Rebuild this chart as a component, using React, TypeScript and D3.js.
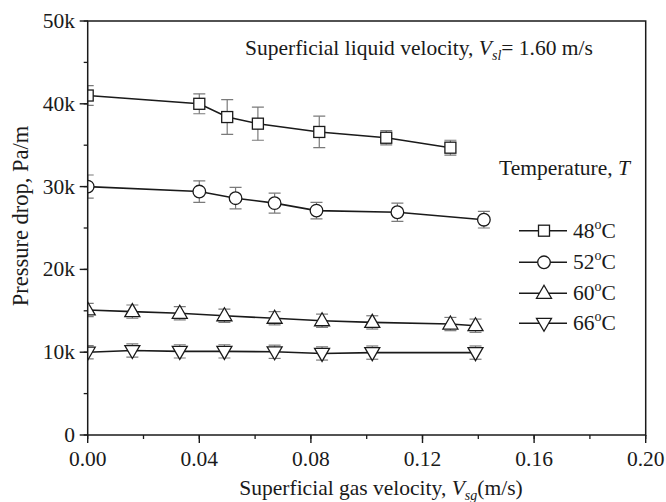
import React from "react";
import * as d3 from "d3";

const xTicks = [0, 0.04, 0.08, 0.12, 0.16, 0.2];
const xTickLabels = ["0.00", "0.04", "0.08", "0.12", "0.16", "0.20"];
const yTicks = [0, 10000, 20000, 30000, 40000, 50000];
const yTickLabels = ["0", "10k", "20k", "30k", "40k", "50k"];

const x48 = [0, 0.04, 0.05, 0.061, 0.083, 0.107, 0.13];
const y48 = [41000, 40000, 38400, 37600, 36600, 35900, 34700];
const e48 = [1200, 1200, 2100, 2000, 1900, 850, 900];

const x52 = [0, 0.04, 0.053, 0.067, 0.082, 0.111, 0.142];
const y52 = [30000, 29400, 28600, 28000, 27100, 26900, 26000];
const e52 = [1400, 1300, 1300, 1200, 1000, 1100, 1000];

const x60 = [0, 0.016, 0.033, 0.049, 0.067, 0.084, 0.102, 0.13, 0.139];
const y60 = [15100, 14900, 14700, 14400, 14100, 13800, 13600, 13400, 13200];
const e60 = [800, 800, 800, 800, 800, 800, 800, 800, 800];

const x66 = [0, 0.016, 0.033, 0.049, 0.067, 0.084, 0.102, 0.139];
const y66 = [10000, 10200, 10100, 10100, 10050, 9850, 9950, 9950];
const e66 = [800, 800, 800, 800, 800, 800, 800, 800];

const seriesNames = ["48", "52", "60", "66"];

type Kind = "square" | "circle" | "up" | "down";

const W = 666;
const H = 502;
const FONT = "'Liberation Serif', 'Times New Roman', serif";
const INK = "#1a1a1a";
const FS = 21.5;

function Marker({ kind, cx, cy }: { kind: Kind; cx: number; cy: number }) {
  const common = { fill: "#fff", stroke: INK, strokeWidth: 1.3 };
  if (kind === "square") return <rect x={cx - 5.5} y={cy - 5.5} width={11} height={11} {...common} />;
  if (kind === "circle") return <circle cx={cx} cy={cy} r={6.3} {...common} />;
  if (kind === "up")
    return <path d={`M${cx},${cy - 8}L${cx + 7.5},${cy + 5}L${cx - 7.5},${cy + 5}Z`} {...common} />;
  return <path d={`M${cx},${cy + 8}L${cx + 7.5},${cy - 5}L${cx - 7.5},${cy - 5}Z`} {...common} />;
}

export default function App() {
  const x = d3.scaleLinear().domain([0, 0.2]).range([87.7, 645.7]);
  const y = d3.scaleLinear().domain([0, 50000]).range([435, 21]);
  const [x0, x1] = x.range();
  const [yb, yt] = y.range();

  const series: { xs: number[]; ys: number[]; es: number[]; kind: Kind }[] = [
    { xs: x48, ys: y48, es: e48, kind: "square" },
    { xs: x52, ys: y52, es: e52, kind: "circle" },
    { xs: x60, ys: y60, es: e60, kind: "up" },
    { xs: x66, ys: y66, es: e66, kind: "down" },
  ];

  const line = d3
    .line<[number, number]>()
    .x((d) => x(d[0]))
    .y((d) => y(d[1]));

  const xMinor = d3.range(0, 0.2001, 0.02);
  const yMinor = d3.range(0, 50001, 5000);

  const legendRows = [230.7, 262.3, 293.3, 323.3];

  return (
    <svg width={W} height={H} style={{ position: "absolute", left: 0, top: 0, background: "#fff" }} fontFamily={FONT}>
      <defs>
        <clipPath id="plot">
          <rect x={x0} y={yt} width={x1 - x0} height={yb - yt} />
        </clipPath>
      </defs>
      <rect x={0} y={0} width={W} height={H} fill="#fff" />

      {/* data */}
      <g clipPath="url(#plot)">
        {series.map((s, i) => (
          <g key={"eb" + i} stroke="#7a7a7a" strokeWidth={1.2}>
            {s.xs.map((xv, j) => {
              const cx = x(xv);
              const ya = y(s.ys[j] + s.es[j]);
              const yb2 = y(s.ys[j] - s.es[j]);
              return (
                <g key={j}>
                  <line x1={cx} x2={cx} y1={ya} y2={yb2} />
                  <line x1={cx - 6} x2={cx + 6} y1={ya} y2={ya} />
                  <line x1={cx - 6} x2={cx + 6} y1={yb2} y2={yb2} />
                </g>
              );
            })}
          </g>
        ))}
        {series.map((s, i) => (
          <path
            key={"l" + i}
            d={line(s.xs.map((xv, j) => [xv, s.ys[j]] as [number, number])) || ""}
            fill="none"
            stroke={INK}
            strokeWidth={1.6}
          />
        ))}
        {series.map((s, i) => (
          <g key={"m" + i}>
            {s.xs.map((xv, j) => (
              <Marker key={j} kind={s.kind} cx={x(xv)} cy={y(s.ys[j])} />
            ))}
          </g>
        ))}
      </g>

      {/* frame */}
      <rect x={x0} y={yt} width={x1 - x0} height={yb - yt} fill="none" stroke={INK} strokeWidth={1.5} />

      {/* x ticks */}
      {xMinor.map((t, i) => (
        <line key={"xm" + i} x1={x(t)} x2={x(t)} y1={yb} y2={yb + 4} stroke={INK} strokeWidth={1.3} />
      ))}
      {xTicks.map((t, i) => (
        <g key={"xt" + i}>
          <line x1={x(t)} x2={x(t)} y1={yb} y2={yb + 8} stroke={INK} strokeWidth={1.4} />
          <text x={x(t)} y={466} textAnchor="middle" fontSize={FS} fill={INK}>
            {xTickLabels[i]}
          </text>
        </g>
      ))}

      {/* y ticks */}
      {yMinor.map((t, i) => (
        <line key={"ym" + i} x1={x0 - 4} x2={x0} y1={y(t)} y2={y(t)} stroke={INK} strokeWidth={1.3} />
      ))}
      {yTicks.map((t, i) => (
        <g key={"yt" + i}>
          <line x1={x0 - 8} x2={x0} y1={y(t)} y2={y(t)} stroke={INK} strokeWidth={1.4} />
          <text x={75} y={y(t) + 7} textAnchor="end" fontSize={FS} fill={INK}>
            {yTickLabels[i]}
          </text>
        </g>
      ))}

      {/* axis labels */}
      <text x={381} y={495} textAnchor="middle" fontSize={FS} fill={INK}>
        Superficial gas velocity,{" "}
        <tspan fontStyle="italic">V</tspan>
        <tspan fontStyle="italic" fontSize={14} dy={5}>sg</tspan>
        <tspan dy={-5}>(m/s)</tspan>
      </text>
      <text x={0} y={0} transform="translate(28,216) rotate(-90)" textAnchor="middle" fontSize={22.5} fill={INK}>
        Pressure drop, Pa/m
      </text>

      {/* annotation */}
      <text x={245} y={55} fontSize={FS} fill={INK}>
        Superficial liquid velocity,{" "}
        <tspan fontStyle="italic">V</tspan>
        <tspan fontStyle="italic" fontSize={14} dy={5}>sl</tspan>
        <tspan dy={-5}>= 1.60 m/s</tspan>
      </text>

      {/* legend */}
      <text x={499} y={175} fontSize={FS} fill={INK}>
        Temperature, <tspan fontStyle="italic">T</tspan>
      </text>
      {series.map((s, i) => (
        <g key={"lg" + i}>
          <line x1={519} x2={567} y1={legendRows[i]} y2={legendRows[i]} stroke={INK} strokeWidth={1.6} />
          <Marker kind={s.kind} cx={544} cy={legendRows[i]} />
          <text x={573} y={legendRows[i] + 7} fontSize={FS} fill={INK}>
            {seriesNames[i]}
            <tspan fontSize={14} dy={-9}>o</tspan>
            <tspan dy={9}>C</tspan>
          </text>
        </g>
      ))}
    </svg>
  );
}
